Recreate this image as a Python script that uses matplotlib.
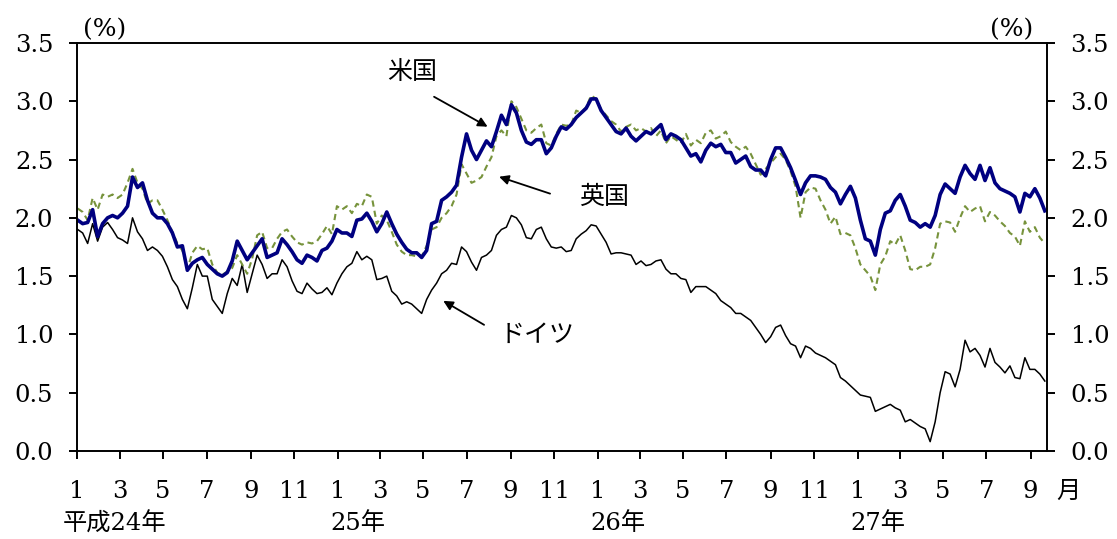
import pandas as pd
import matplotlib
matplotlib.use("Agg")
import matplotlib.pyplot as plt

plt.rcParams['font.family'] = ['DejaVu Serif', 'Noto Sans CJK JP']

# weekly readings, Jan 2012 - Sep 2015 (%)
dates = pd.date_range('2012-01-02', periods=195, freq='W-MON')

us = [1.98, 1.95, 1.96, 2.07, 1.84, 1.95, 2.00, 2.02, 2.00, 2.04, 2.10, 2.35, 2.26, 2.30, 2.15, 2.04, 2.00, 2.00, 1.95, 1.87, 1.75, 1.76, 1.55, 1.61,
      1.64, 1.66, 1.60, 1.56, 1.52, 1.50, 1.53, 1.63, 1.80, 1.72, 1.64, 1.70, 1.76, 1.82, 1.66, 1.68, 1.70, 1.82, 1.77, 1.71, 1.64, 1.61, 1.68,
      1.66, 1.63, 1.72, 1.74, 1.80, 1.90, 1.87, 1.87, 1.84, 1.98, 1.99, 2.04, 1.97, 1.88, 1.95, 2.05, 1.95, 1.86, 1.79, 1.73, 1.70, 1.70, 1.66,
      1.72, 1.95, 1.97, 2.15, 2.18, 2.22, 2.28, 2.52, 2.72, 2.58, 2.50, 2.58, 2.66, 2.61, 2.74, 2.88, 2.80, 2.97, 2.90, 2.75, 2.65, 2.63, 2.67,
      2.67, 2.55, 2.60, 2.70, 2.78, 2.76, 2.80, 2.86, 2.90, 2.94, 3.02, 3.02, 2.92, 2.86, 2.80, 2.74, 2.72, 2.77, 2.70, 2.66, 2.70, 2.74, 2.72,
      2.76, 2.80, 2.67, 2.72, 2.70, 2.67, 2.60, 2.53, 2.55, 2.48, 2.58, 2.64, 2.61, 2.63, 2.56, 2.56, 2.47, 2.50, 2.53, 2.44, 2.41, 2.41, 2.36,
      2.50, 2.60, 2.60, 2.52, 2.43, 2.32, 2.20, 2.30, 2.36, 2.36, 2.35, 2.33, 2.26, 2.22, 2.12, 2.20, 2.27, 2.17, 1.98, 1.82, 1.80, 1.68, 1.90,
      2.04, 2.06, 2.15, 2.20, 2.10, 1.98, 1.96, 1.92, 1.95, 1.92, 2.02, 2.20, 2.29, 2.25, 2.21, 2.35, 2.45, 2.38, 2.33, 2.45, 2.32, 2.43, 2.30,
      2.25, 2.23, 2.21, 2.18, 2.05, 2.21, 2.18, 2.25, 2.17, 2.06]

uk = [2.08, 2.05, 1.98, 2.17, 2.07, 2.20, 2.18, 2.20, 2.17, 2.20, 2.30, 2.42, 2.30, 2.25, 2.12, 2.15, 2.15, 2.07, 1.98, 1.88, 1.78, 1.72, 1.56, 1.70,
      1.76, 1.73, 1.74, 1.60, 1.53, 1.51, 1.54, 1.57, 1.68, 1.60, 1.52, 1.65, 1.85, 1.88, 1.74, 1.74, 1.82, 1.88, 1.90, 1.84, 1.79, 1.77, 1.79,
      1.78, 1.80, 1.86, 1.93, 1.86, 2.10, 2.07, 2.10, 2.04, 2.12, 2.10, 2.20, 2.18, 1.95, 2.02, 1.98, 1.88, 1.77, 1.71, 1.68, 1.68, 1.67, 1.67,
      1.76, 1.90, 1.92, 2.00, 2.04, 2.10, 2.20, 2.46, 2.38, 2.30, 2.32, 2.35, 2.44, 2.52, 2.70, 2.75, 2.70, 3.00, 2.95, 2.85, 2.75, 2.73, 2.77,
      2.80, 2.64, 2.62, 2.72, 2.80, 2.79, 2.80, 2.92, 2.90, 2.95, 3.05, 3.02, 2.93, 2.88, 2.83, 2.80, 2.74, 2.78, 2.80, 2.75, 2.77, 2.74, 2.77,
      2.70, 2.75, 2.64, 2.70, 2.67, 2.64, 2.72, 2.62, 2.67, 2.64, 2.73, 2.75, 2.68, 2.70, 2.74, 2.65, 2.61, 2.58, 2.61, 2.55, 2.46, 2.37, 2.42,
      2.47, 2.52, 2.55, 2.50, 2.40, 2.27, 2.00, 2.22, 2.26, 2.25, 2.15, 2.07, 1.95, 2.01, 1.86, 1.87, 1.85, 1.74, 1.60, 1.55, 1.50, 1.38, 1.60,
      1.67, 1.80, 1.77, 1.85, 1.72, 1.56, 1.55, 1.58, 1.58, 1.60, 1.74, 1.95, 1.97, 1.96, 1.88, 2.00, 2.10, 2.05, 2.08, 2.10, 1.97, 2.05, 2.02,
      1.97, 1.93, 1.87, 1.84, 1.76, 1.97, 1.88, 1.92, 1.83, 1.78]

de = [1.90, 1.87, 1.78, 1.95, 1.80, 1.92, 1.96, 1.90, 1.83, 1.81, 1.78, 2.00, 1.88, 1.82, 1.72, 1.75, 1.72, 1.67, 1.58, 1.47, 1.41, 1.30, 1.22, 1.40,
      1.60, 1.50, 1.50, 1.30, 1.24, 1.18, 1.35, 1.48, 1.42, 1.60, 1.36, 1.52, 1.68, 1.60, 1.48, 1.52, 1.52, 1.64, 1.58, 1.46, 1.37, 1.35, 1.44,
      1.39, 1.35, 1.36, 1.40, 1.34, 1.44, 1.52, 1.58, 1.61, 1.71, 1.64, 1.67, 1.64, 1.47, 1.48, 1.50, 1.37, 1.33, 1.26, 1.28, 1.26, 1.22, 1.18,
      1.30, 1.38, 1.44, 1.52, 1.55, 1.61, 1.60, 1.75, 1.71, 1.62, 1.55, 1.66, 1.68, 1.72, 1.85, 1.90, 1.92, 2.02, 2.00, 1.94, 1.83, 1.82, 1.90,
      1.92, 1.82, 1.75, 1.74, 1.75, 1.71, 1.72, 1.82, 1.86, 1.89, 1.94, 1.93, 1.86, 1.79, 1.69, 1.70, 1.70, 1.69, 1.68, 1.60, 1.63, 1.59, 1.60,
      1.63, 1.64, 1.56, 1.52, 1.52, 1.48, 1.47, 1.36, 1.41, 1.41, 1.41, 1.38, 1.35, 1.29, 1.26, 1.23, 1.18, 1.18, 1.15, 1.12, 1.06, 1.00, 0.93,
      0.98, 1.06, 1.08, 0.99, 0.92, 0.90, 0.80, 0.90, 0.88, 0.84, 0.82, 0.80, 0.77, 0.74, 0.63, 0.60, 0.56, 0.52, 0.48, 0.47, 0.46, 0.34, 0.36,
      0.38, 0.40, 0.37, 0.35, 0.25, 0.27, 0.24, 0.21, 0.19, 0.08, 0.25, 0.50, 0.68, 0.66, 0.55, 0.70, 0.95, 0.85, 0.88, 0.82, 0.72, 0.88, 0.76,
      0.72, 0.67, 0.73, 0.63, 0.62, 0.80, 0.70, 0.70, 0.66, 0.60]

month_ticks = pd.date_range('2012-01-01', '2015-09-01', freq='2MS')
year_labels = ['平成24年', '25年', '26年', '27年']
year_starts = pd.to_datetime(['2012-01-01', '2013-01-01', '2014-01-01', '2015-01-01'])

fig = plt.figure(figsize=(11.17, 5.39), dpi=100)
ax = fig.add_axes([0.0689, 0.1633, 0.8684, 0.7570])

ax.plot(dates, de, color='black', lw=1.1)
ax.plot(dates, uk, color='#77933C', lw=1.5, ls=(0, (3, 2)))
ax.plot(dates, us, color='#000080', lw=2.6)

ax.set_xlim(pd.Timestamp('2012-01-01'), pd.Timestamp('2015-09-24'))
ax.set_ylim(0, 3.5)
ax.set_yticks([i * 0.5 for i in range(8)])
ax.set_yticklabels(['%.1f' % (i * 0.5) for i in range(8)])
ax.set_xticks(month_ticks)
ax.set_xticklabels([str(d.month) for d in month_ticks])

for s in ax.spines.values():
    s.set_linewidth(1.4)
ax.tick_params(axis='y', left=True, right=True, labelleft=True, labelright=True,
               direction='out', length=6, width=1.4, labelsize=17.5, pad=11)
ax.tick_params(axis='x', direction='out', length=6, width=1.4, labelsize=17.5, pad=15)

tr = ax.get_xaxis_transform()
for lab, d in zip(year_labels, year_starts):
    off = pd.Timedelta(days=20) if lab.startswith('平成') else pd.Timedelta(days=10)
    ax.text(d - off, -0.178, lab, transform=tr, ha='left', va='center', fontsize=17.5)
ax.text(1.022, -0.1, '月', transform=ax.transAxes, ha='center', va='center', fontsize=17.5)

ax.text(0.029, 1.005, '(%)', transform=ax.transAxes, ha='center', va='bottom', fontsize=18)
ax.text(0.964, 1.005, '(%)', transform=ax.transAxes, ha='center', va='bottom', fontsize=18)

# labels with arrows
arr = dict(arrowstyle='-|>', color='black', lw=1.3, mutation_scale=14)
ax.text(pd.Timestamp('2013-04-15'), 3.25, '米国', ha='center', va='center', fontsize=18)
ax.annotate('', xy=(pd.Timestamp('2013-08-03'), 2.77), xytext=(pd.Timestamp('2013-05-13'), 3.05), arrowprops=arr)
ax.text(pd.Timestamp('2014-01-10'), 2.18, '英国', ha='center', va='center', fontsize=18)
ax.annotate('', xy=(pd.Timestamp('2013-08-12'), 2.36), xytext=(pd.Timestamp('2013-10-30'), 2.20), arrowprops=arr)
ax.text(pd.Timestamp('2013-10-08'), 0.99, 'ドイツ', ha='center', va='center', fontsize=18)
ax.annotate('', xy=(pd.Timestamp('2013-05-26'), 1.30), xytext=(pd.Timestamp('2013-07-29'), 1.07), arrowprops=arr)

fig.savefig('out.png', dpi=100)
